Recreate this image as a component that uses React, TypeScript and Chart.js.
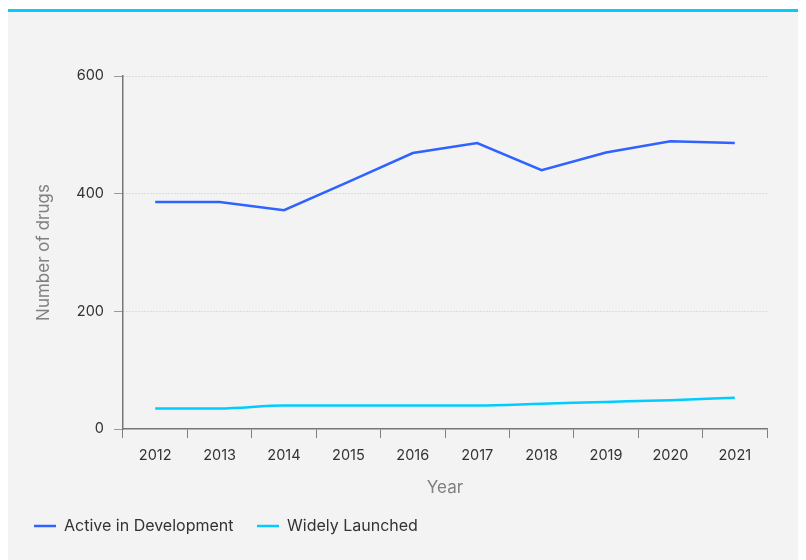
import React, { useEffect, useRef } from "react";
import { Chart, registerables } from "chart.js";

Chart.register(...registerables);

const years = ["2012", "2013", "2014", "2015", "2016", "2017", "2018", "2019", "2020", "2021"];
const activeInDevelopment = [386, 386, 372, 420, 469, 486, 440, 470, 489, 486];
const widelyLaunched = [35, 35, 40, 40, 40, 40, 43, 46, 49, 53];
const yTicks = [0, 200, 400, 600];

const FONT = "Inter, 'Noto Sans', sans-serif";

export default function App() {
  const ref = useRef<HTMLCanvasElement | null>(null);

  useEffect(() => {
    if (!ref.current) return;
    const chart = new Chart(ref.current, {
      type: "line",
      data: {
        labels: years,
        datasets: [
          {
            label: "Active in Development",
            data: activeInDevelopment,
            borderColor: "#2f62ff",
            backgroundColor: "#2f62ff",
            borderWidth: 2.5,
            pointRadius: 0,
            tension: 0,
          },
          {
            label: "Widely Launched",
            data: widelyLaunched,
            borderColor: "#00ccff",
            backgroundColor: "#00ccff",
            borderWidth: 2.5,
            pointRadius: 0,
            cubicInterpolationMode: "monotone",
          },
        ],
      },
      options: {
        animation: false,
        responsive: false,
        maintainAspectRatio: false,
        layout: { padding: { left: 16, right: 39, top: 64, bottom: 16 } },
        plugins: {
          tooltip: { enabled: false },
          legend: {
            position: "bottom",
            align: "start",
            labels: {
              usePointStyle: true,
              pointStyle: "line",
              pointStyleWidth: 22,
              boxHeight: 14,
              padding: 10,
              color: "#333333",
              font: { family: FONT, size: 16 },
              generateLabels: (c: any) => {
                const items = Chart.defaults.plugins.legend.labels.generateLabels(c);
                return items.map((it: any, i: number) => ({
                  ...it,
                  text: i < items.length - 1 ? it.text + "   " : it.text,
                }));
              },
            },
          },
        },
        scales: {
          x: {
            offset: true,
            grid: {
              display: true,
              drawOnChartArea: false,
              drawTicks: true,
              tickLength: 9,
              offset: true,
              color: "#808080",
              tickColor: "#808080",
            },
            border: { display: true, color: "#777777", width: 1.5 },
            ticks: {
              color: "#333333",
              padding: 9,
              font: { family: FONT, size: 14.5 },
              maxRotation: 0,
            },
            title: {
              display: true,
              text: "Year",
              color: "#808080",
              font: { family: FONT, size: 17 },
              padding: { top: 0, bottom: 10 },
            },
            afterFit: (scale: any) => {
              scale.height = 79;
            },
          },
          y: {
            min: 0,
            max: 600,
            afterBuildTicks: (scale: any) => {
              scale.ticks = yTicks.map((v) => ({ value: v }));
            },
            grid: {
              display: true,
              drawTicks: true,
              tickLength: 9,
              color: (ctx: any) => (ctx.tick && ctx.tick.value === 0 ? "rgba(0,0,0,0)" : "#c4c4c4"),
              tickColor: "#999999",
              tickBorderDash: [],
              lineWidth: 1,
            },
            border: { display: true, color: "#777777", width: 1.5, dash: [1, 2] },
            ticks: {
              color: "#333333",
              padding: 10,
              font: { family: FONT, size: 14.5 },
            },
            title: {
              display: true,
              text: "Number of drugs",
              color: "#808080",
              font: { family: FONT, size: 17 },
              padding: { top: 10, bottom: 0 },
            },
            afterFit: (scale: any) => {
              scale.width = 99;
            },
          },
        },
      },
    });
    return () => chart.destroy();
  }, []);

  return (
    <div
      style={{
        position: "relative",
        width: 798,
        height: 549,
        background: "#f3f3f3",
        borderTop: "3px solid #00ccff",
        marginTop: 1,
        fontFamily: FONT,
      }}
    >
      <style>{"body{overflow:hidden}"}</style>
      <canvas ref={ref} width={798} height={548} style={{ display: "block" }} />
    </div>
  );
}
